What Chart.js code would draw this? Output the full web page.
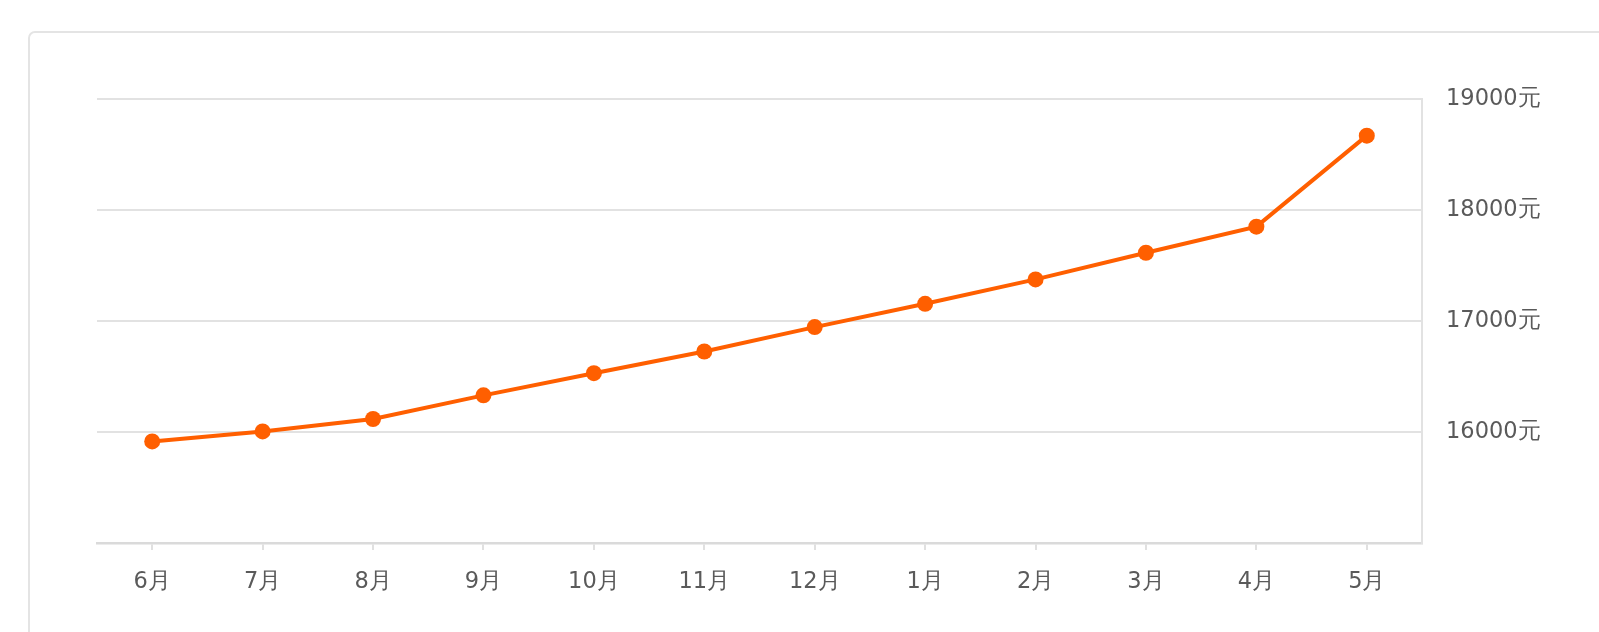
<!DOCTYPE html>
<html>
<head>
<meta charset="utf-8">
<script src="https://cdn.jsdelivr.net/npm/chart.js@4"></script>
<style>
  html, body { margin: 0; padding: 0; background: #fff; overflow: hidden; }
  #frame {
    position: absolute; left: 28px; top: 31px; width: 1700px; height: 800px;
    border: 2px solid #e4e4e4; border-radius: 7px; box-sizing: border-box;
  }
  #wrap { position: absolute; left: 0; top: 0; width: 1599px; height: 632px; }
</style>
</head>
<body>
<div id="frame"></div>
<div id="wrap"><canvas id="priceChart" width="1599" height="632"></canvas></div>
<script>
// months shown on the x axis
const months = ["6月", "7月", "8月", "9月", "10月", "11月", "12月", "1月", "2月", "3月", "4月", "5月"];
// average price per month (元)
const prices = [15915, 16005, 16117, 16330, 16530, 16725, 16945, 17155, 17375, 17615, 17850, 18670];
// y axis labels shown on the right
const yTicks = [16000, 17000, 18000, 19000];
const yUnit = "元";
const yMin = 15000, yMax = 19000, yStep = 1000;

const orange = "#ff5f00";
const gridColor = "#e2e2e2";
const labelFont = { family: "DejaVu Sans", size: 22.5 };

const ctx = document.getElementById("priceChart").getContext("2d");
new Chart(ctx, {
  type: "line",
  data: {
    labels: months,
    datasets: [{
      data: prices,
      borderColor: orange,
      backgroundColor: orange,
      borderWidth: 4,
      pointRadius: 8,
      pointBorderWidth: 0,
      pointBackgroundColor: orange,
      tension: 0,
      fill: false
    }]
  },
  options: {
    responsive: false,
    animation: false,
    layout: { padding: { left: 97, top: 99, right: 0, bottom: 0 } },
    plugins: { legend: { display: false }, tooltip: { enabled: false } },
    scales: {
      x: {
        offset: true,
        grid: { drawOnChartArea: false, drawTicks: true, tickLength: 7, tickColor: "#e0e0e0", lineWidth: 2, offset: false },
        border: { display: true, color: "#dadada", width: 2.5 },
        ticks: { color: "#5a5a5a", font: labelFont, padding: 19, maxRotation: 0 },
        afterFit: (axis) => { axis.height = 89; }
      },
      y: {
        position: "right",
        min: yMin, max: yMax,
        grid: { color: gridColor, lineWidth: 2, drawTicks: false },
        border: { display: true, color: gridColor, width: 2 },
        ticks: {
          stepSize: yStep,
          color: "#5a5a5a",
          font: labelFont,
          padding: 24,
          callback: (v) => yTicks.includes(v) ? v + yUnit : ""
        },
        afterFit: (axis) => { axis.width = 177; }
      }
    }
  }
});
</script>
</body>
</html>
